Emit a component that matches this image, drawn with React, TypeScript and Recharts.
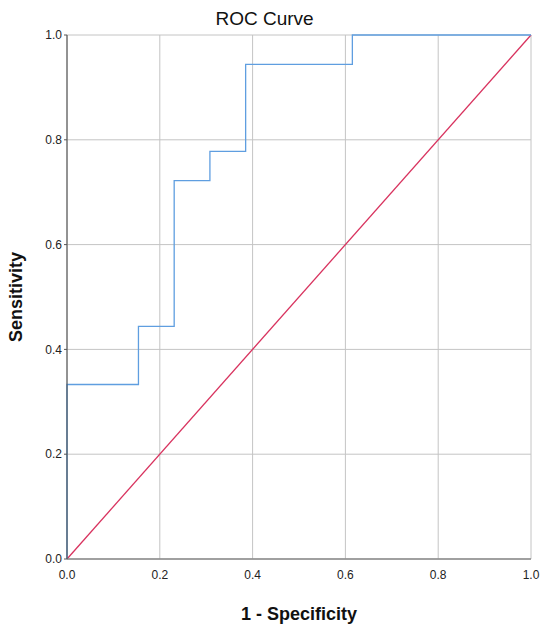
import React from 'react';
import { ComposedChart, Line, XAxis, YAxis, CartesianGrid, Label } from 'recharts';

// ROC corner points (13 negatives, 18 positives)
const fpr = [0, 0, 0.154, 0.154, 0.231, 0.231, 0.308, 0.308, 0.385, 0.385, 0.615, 0.615, 1];
const tpr = [0, 0.333, 0.333, 0.444, 0.444, 0.722, 0.722, 0.778, 0.778, 0.944, 0.944, 1, 1];

// chance diagonal
const refFpr = [0, 1];
const refTpr = [0, 1];

const axisTicks = [0, 0.2, 0.4, 0.6, 0.8, 1];

const rocData = fpr.map((x, i) => ({ fpr: x, tpr: tpr[i] }));
const refData = refFpr.map((x, i) => ({ fpr: x, tpr: refTpr[i] }));

const FONT = '"Liberation Sans", Arial, sans-serif';

const YTitle = (props: any) => {
  const vb = props.viewBox || { x: 0, y: 35, width: 67, height: 524 };
  const cy = vb.y + vb.height / 2;
  return (
    <text
      x={22}
      y={cy}
      transform={`rotate(-90, 22, ${cy})`}
      textAnchor="middle"
      fontFamily={FONT}
      fontWeight="bold"
      fontSize={18}
      fill="#111"
    >
      Sensitivity
    </text>
  );
};

const App = () => {
  return (
    <div style={{ position: 'absolute', left: 0, top: 0, width: 550, height: 633, background: '#fff' }}>
      <div
        style={{
          position: 'absolute',
          top: 9,
          left: 0,
          width: 529,
          textAlign: 'center',
          fontFamily: FONT,
          fontSize: 19,
          lineHeight: '19px',
          color: '#111',
        }}
      >
        ROC Curve
      </div>
      <ComposedChart width={550} height={633} margin={{ top: 35, right: 19, bottom: 0, left: 0 }}>
        <CartesianGrid stroke="#c4c4c4" strokeWidth={1} horizontalValues={axisTicks} verticalValues={axisTicks} />
        <XAxis
          dataKey="fpr"
          type="number"
          domain={[0, 1]}
          ticks={axisTicks}
          tickFormatter={(v: number) => v.toFixed(1)}
          height={74}
          tickLine={false}
          tickSize={0}
          tickMargin={11}
          axisLine={{ stroke: '#8a8a8a', strokeWidth: 1.5 }}
          tick={{ fill: '#222', fontSize: 12, fontFamily: FONT }}
          allowDuplicatedCategory={false}
        >
          <Label
            value="1 - Specificity"
            position="insideBottom"
            offset={13}
            style={{ fontFamily: FONT, fontWeight: 'bold', fontSize: 18, fill: '#111' }}
          />
        </XAxis>
        <YAxis
          type="number"
          domain={[0, 1]}
          ticks={axisTicks}
          tickFormatter={(v: number) => v.toFixed(1)}
          width={67}
          tickSize={3}
          tickMargin={2}
          tickLine={{ stroke: '#555' }}
          axisLine={{ stroke: '#444', strokeWidth: 1 }}
          tick={{ fill: '#222', fontSize: 12, fontFamily: FONT }}
        >
          <Label content={YTitle} />
        </YAxis>
        <Line
          data={refData}
          dataKey="tpr"
          type="linear"
          stroke="#d8325e"
          strokeWidth={1.3}
          dot={false}
          activeDot={false}
          isAnimationActive={false}
        />
        <Line
          data={rocData}
          dataKey="tpr"
          type="linear"
          stroke="#5f9ee0"
          strokeWidth={1.3}
          dot={false}
          activeDot={false}
          isAnimationActive={false}
        />
      </ComposedChart>
    </div>
  );
};

export default App;
